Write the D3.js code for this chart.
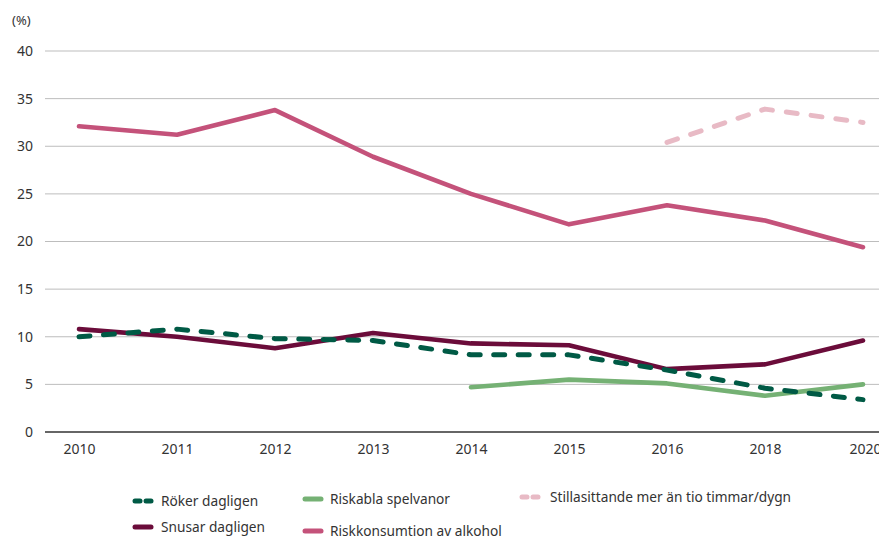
<!DOCTYPE html>
<html><head><meta charset="utf-8">
<script src="https://cdn.jsdelivr.net/npm/d3@7"></script>
<style>
body{margin:0;background:#fff;}
text{font-family:"Noto Sans","Open Sans",sans-serif;fill:#333;}
</style></head>
<body><svg id="c" width="879" height="536"></svg>
<script>
const years = ["2010","2011","2012","2013","2014","2015","2016","2018","2020"];
const yTicks = [0,5,10,15,20,25,30,35,40];
const roker = [10.0,10.8,9.8,9.6,8.1,8.1,6.5,4.6,3.4];
const snusar = [10.8,10.0,8.8,10.4,9.3,9.1,6.6,7.1,9.6];
const spel = [null,null,null,null,4.7,5.5,5.1,3.8,5.0];
const alkohol = [32.1,31.2,33.8,28.9,25.0,21.8,23.8,22.2,19.4];
const still = [null,null,null,null,null,null,30.4,33.9,32.5];

const series = [
  {name:"Röker dagligen", values:roker, color:"#005a45", dash:"11,13.5"},
  {name:"Snusar dagligen", values:snusar, color:"#6b0c3a", dash:null},
  {name:"Riskabla spelvanor", values:spel, color:"#75b174", dash:null},
  {name:"Riskkonsumtion av alkohol", values:alkohol, color:"#c4527a", dash:null},
  {name:"Stillasittande mer än tio timmar/dygn", values:still, color:"#e8bac5", dash:"11,14"}
];

const svg = d3.select("#c");
const x = d3.scalePoint().domain(years).range([45,897]).padding(0.347);
const y = d3.scaleLinear().domain([0,40]).range([432,51]);

// gridlines
const g = svg.append("g");
g.selectAll("line.grid").data(yTicks).join("line")
  .attr("x1",45).attr("x2",879)
  .attr("y1",d=>y(d)).attr("y2",d=>y(d))
  .attr("stroke",d=>d===0?"#333":"#bdbdbd").attr("stroke-width",d=>d===0?1.5:1);

// y labels
const yAxis = d3.axisLeft(y).tickValues(yTicks).tickSize(0).tickPadding(0);
svg.append("g").attr("transform","translate(33,0)").call(yAxis)
  .call(s=>s.select(".domain").remove())
  .call(s=>s.selectAll("text").attr("font-size",14).attr("fill","#333").style("font-family","'Noto Sans'"));

svg.append("text").attr("x",12).attr("y",25).attr("font-size",13).text("(%)");

// x labels
const xAxis = d3.axisBottom(x).tickSize(0).tickPadding(0);
svg.append("g").attr("transform","translate(0,444)").call(xAxis)
  .call(s=>s.select(".domain").remove())
  .call(s=>s.selectAll("text").attr("font-size",14).attr("fill","#333").style("font-family","'Noto Sans'"))
  .call(s=>s.selectAll(".tick").filter(d=>d==="2020").select("text").attr("dx",2));

// lines
const line = d3.line().defined(d=>d.v!=null).x(d=>x(d.year)).y(d=>y(d.v));
const drawOrder = [4,3,2,1,0];
drawOrder.forEach(i=>{
  const s = series[i];
  svg.append("path")
    .datum(years.map((yr,j)=>({year:yr,v:s.values[j]})))
    .attr("d",line).attr("fill","none")
    .attr("stroke",s.color).attr("stroke-width",s.dash?5:4.6)
    .attr("stroke-linecap","round").attr("stroke-linejoin","round")
    .attr("stroke-dasharray",s.dash);
});

// legend
const legendPos = [
  {x:133,y:501},{x:133,y:527},{x:303,y:499},{x:303,y:531},{x:520,y:497}
];
series.forEach((s,i)=>{
  const p = legendPos[i];
  const lg = svg.append("g").attr("transform",`translate(${p.x},${p.y})`);
  if(s.dash){
    lg.append("line").attr("x1",2).attr("x2",7).attr("y1",0).attr("y2",0)
      .attr("stroke",s.color).attr("stroke-width",5).attr("stroke-linecap","round");
    lg.append("line").attr("x1",13).attr("x2",18).attr("y1",0).attr("y2",0)
      .attr("stroke",s.color).attr("stroke-width",5).attr("stroke-linecap","round");
  } else {
    lg.append("line").attr("x1",2).attr("x2",18).attr("y1",0).attr("y2",0)
      .attr("stroke",s.color).attr("stroke-width",5).attr("stroke-linecap","round");
  }
  lg.append("text").attr("x",i===4?30:(i>=2?27:28)).attr("y",0).attr("dy","0.35em")
    .attr("font-size",13.7).text(s.name);
});
</script></body></html>
